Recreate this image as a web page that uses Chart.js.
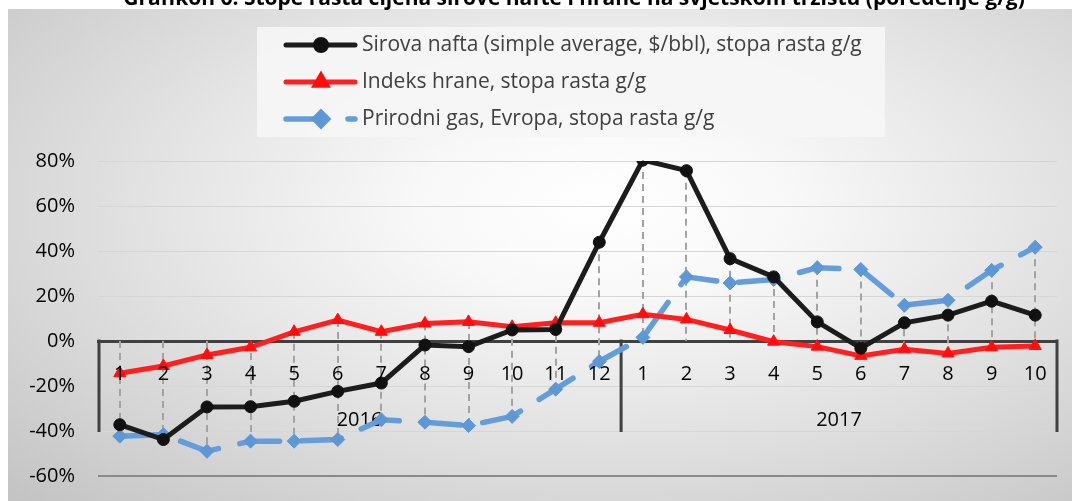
<!DOCTYPE html>
<html><head><meta charset="utf-8">
<script src="https://cdn.jsdelivr.net/npm/chart.js@4.4.0/dist/chart.umd.min.js"></script>
<style>
html,body{margin:0;padding:0;background:#fff;overflow:hidden}
#wrap{position:relative;width:1072px;height:501px;overflow:hidden}
#bg{position:absolute;left:8px;top:9px;right:0;bottom:0;background:radial-gradient(ellipse farthest-corner at 56% 40%, #ffffff 0%, #f8f8f8 22%, #e2e2e2 55%, #c3c3c3 100%)}
canvas{position:absolute;left:0;top:0}
</style></head><body>
<div id="wrap"><div id="bg"></div><canvas id="c" width="1072" height="511"></canvas></div>
<script>
const chartTitle = 'Grafikon 6. Stope rasta cijena sirove nafte i hrane na svjetskom tržištu (poređenje g/g)';
const months = ['1','2','3','4','5','6','7','8','9','10','11','12','1','2','3','4','5','6','7','8','9','10'];
const years = ['2016', '2017'];
const monthsPerYear = [12, 10];
const seriesNames = [
  'Sirova nafta (simple average, $/bbl), stopa rasta g/g',
  'Indeks hrane, stopa rasta g/g',
  'Prirodni gas, Evropa, stopa rasta g/g'
];
const oil  = [-37.2, -43.8, -29.3, -29.2, -26.8, -22.4, -18.7, -1.8, -2.5, 4.9, 5.1, 43.9, 80.4, 75.7, 36.6, 28.5, 8.5, -3.2, 8.1, 11.5, 17.7, 11.5];
const food = [-14.3, -11.1, -6.2, -2.8, 4.1, 9.3, 4.1, 7.8, 8.5, 6.3, 8.1, 8.1, 11.9, 9.6, 4.9, -0.3, -2.5, -6.6, -3.7, -5.5, -2.8, -2.2];
const gas  = [-42.3, -41.6, -49.0, -44.5, -44.5, -43.8, -35.0, -36.1, -37.6, -33.5, -21.4, -9.1, 1.6, 28.5, 25.8, 27.3, 32.6, 31.8, 15.9, 18.1, 31.4, 41.7];
const yMin = -60, yMax = 80, yStep = 20;

const FONT = "'Open Sans', 'Noto Sans', sans-serif";

const bgPlugin = {
  id: 'legendBox',
  beforeDraw(chart) {
    const ctx = chart.ctx;
    ctx.save();
    ctx.fillStyle = 'rgba(246,246,246,0.9)';
    ctx.fillRect(257, 27, 628, 110);
    ctx.restore();
  }
};

const dropLines = {
  id: 'dropLines',
  beforeDatasetsDraw(chart) {
    const ctx = chart.ctx, x = chart.scales.x, y = chart.scales.y;
    ctx.save();
    ctx.strokeStyle = '#a3a3a3';
    ctx.lineWidth = 2;
    ctx.setLineDash([7, 5]);
    months.forEach((m, i) => {
      const vals = chart.data.datasets.map(d => d.data[i]).concat([0]);
      const top = y.getPixelForValue(Math.max(...vals));
      const bot = y.getPixelForValue(Math.min(...vals));
      const px = Math.round(x.getPixelForValue(i));
      ctx.beginPath(); ctx.moveTo(px, top); ctx.lineTo(px, bot); ctx.stroke();
    });
    ctx.restore();
  }
};

const groupAxis = {
  id: 'groupAxis',
  beforeDatasetsDraw(chart) {
    const ctx = chart.ctx, x = chart.scales.x, y = chart.scales.y;
    const y0 = y.getPixelForValue(0), y1 = y.getPixelForValue(-40);
    ctx.save();
    ctx.strokeStyle = '#404040';
    ctx.lineWidth = 3;
    const half = (x.getPixelForValue(1) - x.getPixelForValue(0)) / 2;
    const edges = [chart.chartArea.left + 1];
    let start = 0;
    ctx.fillStyle = '#000';
    ctx.font = '20px ' + FONT;
    ctx.textAlign = 'center';
    ctx.textBaseline = 'middle';
    years.forEach((yr, g) => {
      const end = start + monthsPerYear[g] - 1;
      const cx = (x.getPixelForValue(start) + x.getPixelForValue(end)) / 2;
      ctx.fillText(yr, cx, y0 + 79);
      edges.push(g === years.length - 1 ? chart.chartArea.right : x.getPixelForValue(end) + half);
      start = end + 1;
    });
    edges.forEach(ex => {
      ctx.beginPath(); ctx.moveTo(ex, y0 - 1.5); ctx.lineTo(ex, y1 + 1); ctx.stroke();
    });
    ctx.restore();
  }
};

const legendTitle = {
  id: 'legendTitle',
  afterDraw(chart) {
    const ctx = chart.ctx;
    ctx.save();
    // title (top part cut off by the page edge, as in the source)
    ctx.fillStyle = '#000';
    ctx.font = 'bold 21px ' + FONT;
    ctx.textAlign = 'center';
    ctx.textBaseline = 'alphabetic';
    ctx.fillText(chartTitle, 574, 5);
    // legend
    ctx.font = '21px ' + FONT;
    ctx.textAlign = 'left';
    ctx.textBaseline = 'middle';
    chart.data.datasets.forEach((ds, i) => {
      const cy = 45 + i * 37;
      ctx.strokeStyle = ds.borderColor;
      ctx.lineWidth = ds.borderWidth;
      ctx.lineCap = 'round';
      ctx.setLineDash(ds.borderDash || []);
      ctx.beginPath(); ctx.moveTo(286, cy); ctx.lineTo(355, cy); ctx.stroke();
      ctx.setLineDash([]);
      ctx.fillStyle = ds.pointBackgroundColor;
      ctx.strokeStyle = ds.pointBorderColor;
      Chart.helpers.drawPoint(ctx, {pointStyle: ds.pointStyle, radius: ds.pointRadius - 0.5, rotation: 0, borderWidth: 1}, 321, cy);
      ctx.fillStyle = '#404040';
      ctx.fillText(ds.label, 362, cy);
    });
    ctx.restore();
  }
};

new Chart(document.getElementById('c'), {
  type: 'line',
  data: {
    labels: months,
    datasets: [
      { label: seriesNames[0], data: oil, borderColor: '#1c1c1c', backgroundColor: '#1c1c1c', borderWidth: 5,
        pointStyle: 'circle', pointRadius: 6, pointBackgroundColor: '#111', pointBorderColor: '#111', pointBorderWidth: 1, tension: 0 },
      { label: seriesNames[1], data: food, borderColor: '#ff1f1f', backgroundColor: '#ff1f1f', borderWidth: 5,
        pointStyle: 'triangle', pointRadius: 7, pointBackgroundColor: '#ff0d0d', pointBorderColor: '#ff0d0d', pointBorderWidth: 1, tension: 0 },
      { label: seriesNames[2], data: gas, borderColor: '#639ddb', backgroundColor: '#639ddb', borderWidth: 5.5,
        borderDash: [40, 22], borderCapStyle: 'round',
        pointStyle: 'rectRot', pointRadius: 7, pointBackgroundColor: '#5e97d6', pointBorderColor: '#5e97d6', pointBorderWidth: 1, tension: 0 }
    ]
  },
  options: {
    responsive: false,
    animation: false,
    devicePixelRatio: 1,
    layout: { padding: { left: 0, right: 15, top: 161, bottom: 15 } },
    plugins: { legend: { display: false }, title: { display: false }, tooltip: { enabled: false } },
    scales: {
      x: {
        type: 'category',
        position: { y: 0 },
        offset: true,
        grid: { display: false, drawTicks: false },
        border: { display: true, color: '#404040', width: 3 },
        ticks: { z: 1, color: '#000', font: { family: FONT, size: 20 }, padding: 21, maxRotation: 0, autoSkip: false }
      },
      y: {
        min: yMin, max: yMax,
        afterFit(scale) { scale.width = 98; },
        border: { display: false },
        grid: {
          drawTicks: false,
          color: c => (c.tick && c.tick.value === yMin) ? '#8a8a8a' : '#d6d6d6',
          lineWidth: c => (c.tick && c.tick.value === yMin) ? 2 : 1
        },
        ticks: { stepSize: yStep, color: '#000', padding: 23, font: { family: FONT, size: 20 },
          callback: v => v + '%' }
      }
    }
  },
  plugins: [bgPlugin, dropLines, groupAxis, legendTitle]
});
</script>
</body></html>
